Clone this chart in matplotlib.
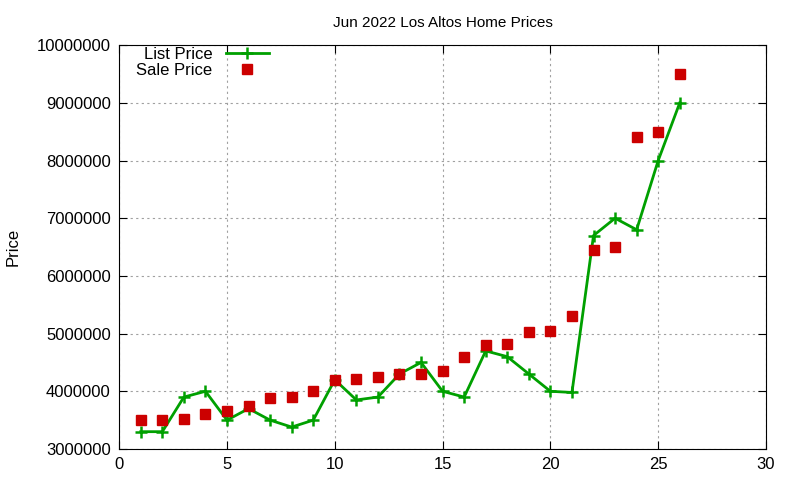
import matplotlib
matplotlib.use('Agg')
import matplotlib.pyplot as plt
from matplotlib.ticker import MultipleLocator, FuncFormatter

plt.rcParams['font.family'] = ['Liberation Sans', 'DejaVu Sans']

# listing index
idx = list(range(1, 27))
list_price = [3300000, 3300000, 3900000, 4000000, 3500000, 3700000, 3500000, 3380000,
              3500000, 4200000, 3850000, 3900000, 4300000, 4500000, 4000000, 3900000,
              4700000, 4600000, 4300000, 4000000, 3980000, 6700000, 7000000, 6800000,
              8000000, 9000000]
sale_price = [3500000, 3500000, 3520000, 3600000, 3650000, 3750000, 3880000, 3900000,
              4000000, 4200000, 4220000, 4250000, 4300000, 4300000, 4350000, 4600000,
              4800000, 4820000, 5030000, 5050000, 5300000, 6450000, 6500000, 8400000,
              8500000, 9500000]

fig = plt.figure(figsize=(8, 4.8), dpi=100)
ax = fig.add_axes([0.149, 0.0646, 0.8085, 0.8414])

ax.plot(idx, list_price, color='#00a000', lw=2, marker='+', ms=9, mew=1.8,
        label='List Price')
ax.plot(idx, sale_price, ls='none', color='#cc0000', marker='s', ms=7,
        label='Sale Price')

ax.set_xlim(0, 30)
ax.set_ylim(3000000, 10000000)
ax.xaxis.set_major_locator(MultipleLocator(5))
ax.yaxis.set_major_locator(MultipleLocator(1000000))
ax.yaxis.set_major_formatter(FuncFormatter(lambda v, p: '%d' % v))
ax.tick_params(direction='in', top=True, right=True, labelsize=12, length=6, pad=6)
ax.grid(True, color='#a0a0a0', ls=(0, (2, 3)), lw=0.8)

ax.set_title('Jun 2022 Los Altos Home Prices', fontsize=11, pad=13)
ax.set_ylabel('Price', fontsize=12, labelpad=12)

leg = ax.legend(loc='upper left', frameon=False, markerfirst=False, fontsize=12,
                handlelength=2.6, borderaxespad=0.0, labelspacing=0.05,
                bbox_to_anchor=(0.016, 1.012))

fig.savefig('out.png')
